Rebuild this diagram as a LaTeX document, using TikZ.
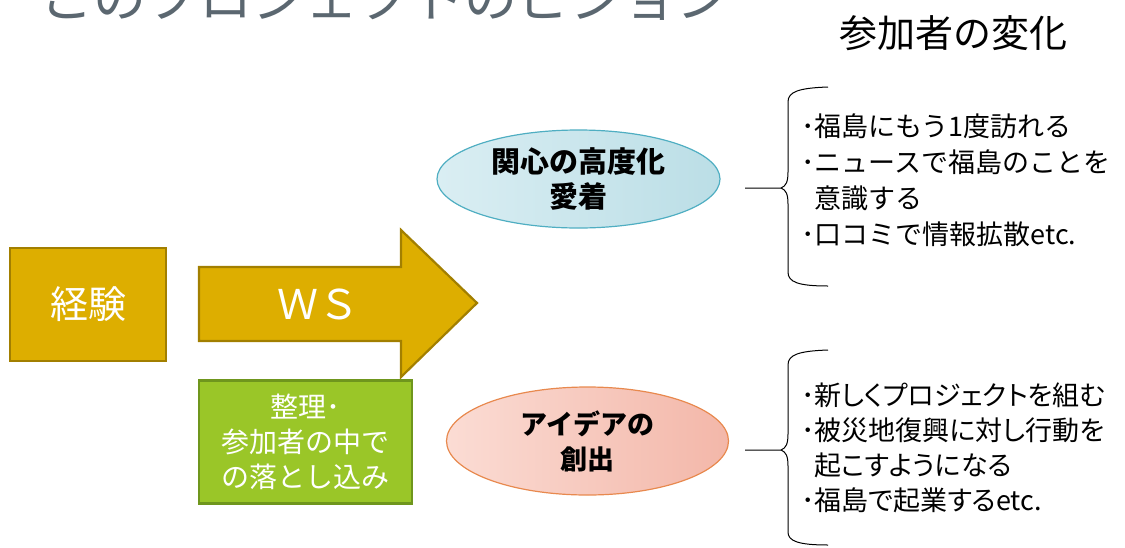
\documentclass[tikz,border=0pt]{standalone}
\usepackage{fontspec}
\setmainfont{Noto Sans CJK JP}
\newfontfamily\cjkp[RawFeature=+palt]{Noto Sans CJK JP}
\usetikzlibrary{shapes.geometric}
\definecolor{gold}{HTML}{DDAE00}
\definecolor{golddk}{HTML}{A27F00}
\definecolor{grn}{HTML}{9AC628}
\definecolor{grndk}{HTML}{6F961D}
\definecolor{titlegray}{HTML}{5B6770}
\definecolor{cyanL}{HTML}{DAEEF3}
\definecolor{cyanR}{HTML}{BBDEE6}
\definecolor{cyanE}{HTML}{4FAEC2}
\definecolor{pinkL}{HTML}{FBDCD4}
\definecolor{pinkR}{HTML}{F3B7A9}
\definecolor{pinkE}{HTML}{E8894E}
\tikzset{
  goldbox/.style={draw=golddk, line width=2.2pt, fill=gold, text=white, inner sep=0pt},
  greenbox/.style={draw=grndk, line width=2.2pt, fill=grn, text=white, inner sep=0pt, align=center, font=\fontsize{28}{35}\selectfont},
  ell/.style={ellipse, inner sep=0pt, line width=1.2pt, shading=axis, shading angle=90, align=center, font=\bfseries\fontsize{29}{35}\selectfont},
  listtext/.style={anchor=north west, align=left, inner sep=0pt, font=\fontsize{27}{36}\selectfont},
  bracel/.style={line width=1pt, black}
}
\begin{document}
\begin{tikzpicture}[x=1pt,y=-1pt]
\useasboundingbox (0,0) rectangle (1125,547);
\begin{scope}
\clip (0,0) rectangle (1125,547);
\node[anchor=base, text=titlegray, font=\fontsize{53}{53}\selectfont, inner sep=0pt] (title) at (385,17) {このプロジェクトのビジョン};
\end{scope}
\node[font=\fontsize{38}{38}\selectfont, inner sep=0pt] (change) at (953,33) {参加者の変化};

% experience box
\node[goldbox, minimum width=156pt, minimum height=113pt, font=\fontsize{38}{38}\selectfont] (exp) at (88,304.5) {経験};

% WS arrow
\filldraw[draw=golddk, line width=2.2pt, fill=gold]
  (199,267) -- (401,267) -- (401,230) -- (477,303) -- (401,377) -- (401,341) -- (199,341) -- cycle;
\node[text=white, font=\fontsize{41}{41}\selectfont, inner sep=0pt] (ws) at (318,304) {ＷＳ};

% green box
\node[greenbox, minimum width=213pt, minimum height=123pt] (org) at (305.5,442) {整理･\\参加者の中で\\の落とし込み};

% ellipses
\node[ell, draw=cyanE, left color=cyanL, right color=cyanR, minimum width=283pt, minimum height=98pt] (interest) at (578.5,179) {関心の高度化\\愛着};
\node[ell, draw=pinkE, left color=pinkL, right color=pinkR, minimum width=282pt, minimum height=108pt, font=\bfseries\fontsize{27}{35}\selectfont] (idea) at (587.5,441) {アイデアの\\創出};

% brace 1
\coordinate (b1s) at (745,188);
\coordinate (b1c) at (781,188);
\coordinate (b1t) at (828,87);
\coordinate (b1b) at (828,286);
\draw[bracel] (b1s) -- (b1c) .. controls (786,186) and (788,182) .. (788,172) -- (788,102) .. controls (788,92) and (798,88) .. (b1t);
\draw[bracel] (b1c) .. controls (786,190) and (788,194) .. (788,204) -- (788,272) .. controls (788,282) and (798,286) .. (b1b);
\node[listtext] (list1) at (801,114) {･福島にもう1度訪れる\\･ニュースで福島のことを\\\hphantom{･}意識する\\･口コミで情報拡散etc.};

% brace 2
\coordinate (b2s) at (745,450);
\coordinate (b2c) at (781,450);
\coordinate (b2t) at (828,350);
\coordinate (b2b) at (828,545);
\draw[bracel] (b2s) -- (b2c) .. controls (786,448) and (788,444) .. (788,434) -- (788,365) .. controls (788,355) and (798,351) .. (b2t);
\draw[bracel] (b2c) .. controls (786,452) and (788,456) .. (788,466) -- (788,532) .. controls (788,541) and (798,545) .. (b2b);
\node[listtext, font=\cjkp\fontsize{27}{35}\selectfont] (list2) at (801,383) {･新しくプロジェクトを組む\\･被災地復興に対し行動を\\\hphantom{･}起こすようになる\\･福島で起業するetc.};
\end{tikzpicture}
\end{document}
